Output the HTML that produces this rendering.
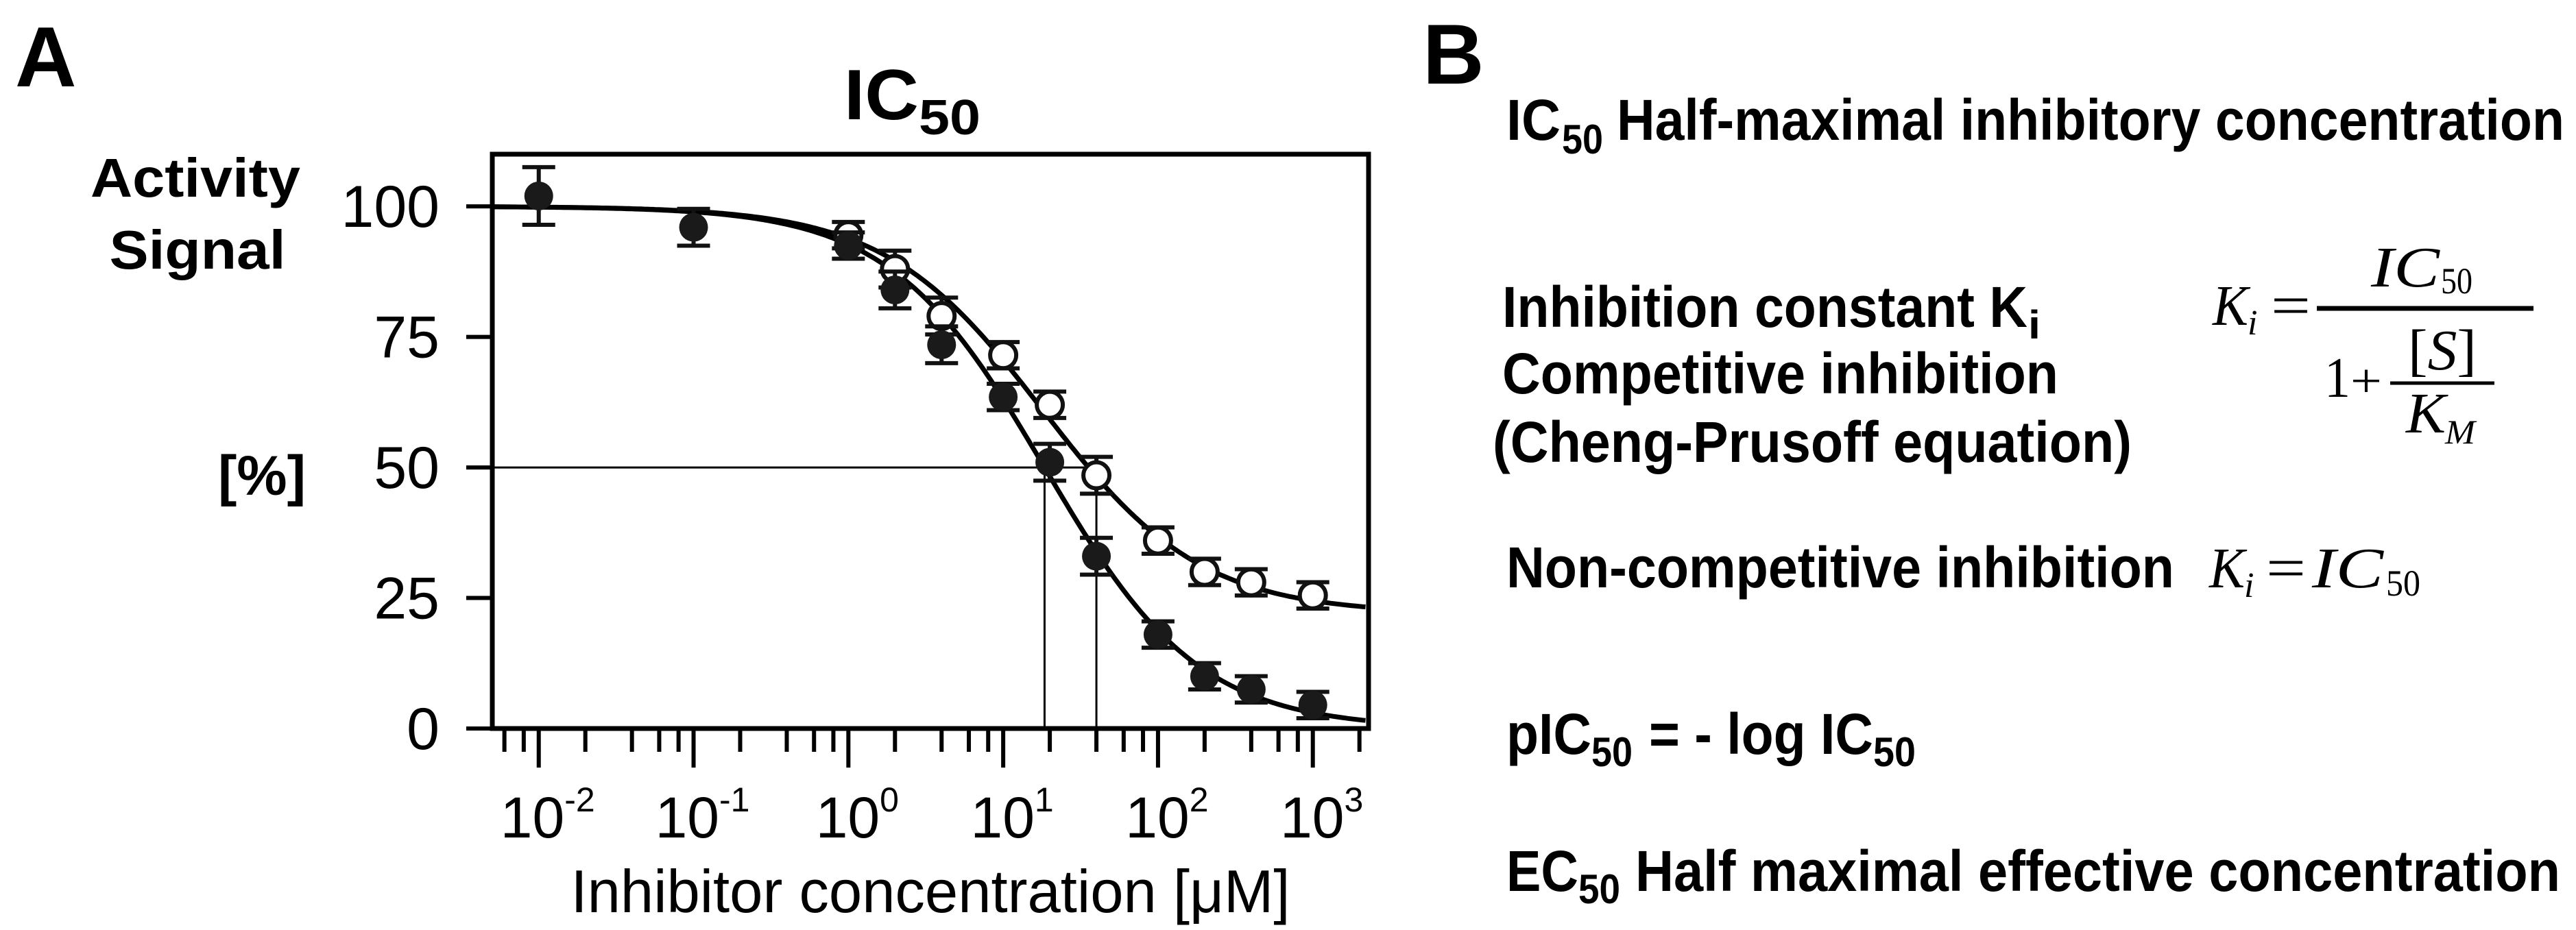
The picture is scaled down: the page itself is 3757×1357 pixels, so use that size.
<!DOCTYPE html>
<html><head><meta charset="utf-8"><style>
html,body{margin:0;padding:0;background:#fff;}
svg{display:block;}
text{font-family:"Liberation Sans",sans-serif;fill:#000;}
.b{font-weight:bold;}
.m{font-family:"Liberation Serif",serif;font-style:italic;}
.mn{font-family:"Liberation Serif",serif;}
</style></head><body>
<svg id="fig" width="3757" height="1357" viewBox="0 0 3757 1357" xmlns="http://www.w3.org/2000/svg">
<rect width="3757" height="1357" fill="#fff"/>
<text class="b" x="22" y="126" font-size="124">A</text>
<g>
<text class="b" x="1231" y="174" font-size="104" textLength="109" lengthAdjust="spacingAndGlyphs">IC</text>
<text class="b" x="1340" y="196" font-size="72" textLength="90" lengthAdjust="spacingAndGlyphs">50</text>
</g>
<g>
<text class="b" x="285" y="287" font-size="80" text-anchor="middle" textLength="306" lengthAdjust="spacingAndGlyphs">Activity</text>
<text class="b" x="288" y="392" font-size="80" text-anchor="middle" textLength="257" lengthAdjust="spacingAndGlyphs">Signal</text>
<text class="b" x="446" y="722" font-size="82" text-anchor="end" textLength="128" lengthAdjust="spacingAndGlyphs">[%]</text>
</g>
<text x="1357" y="1331" font-size="88" text-anchor="middle" textLength="1049" lengthAdjust="spacingAndGlyphs">Inhibitor concentration [μM]</text>
<g id="plot"></g>

<text class="b" x="2075" y="122" font-size="124">B</text>
<g>
<text class="b" x="2197" y="204" font-size="84" textLength="79" lengthAdjust="spacingAndGlyphs">IC</text>
<text class="b" x="2278" y="224" font-size="60" textLength="60" lengthAdjust="spacingAndGlyphs">50</text>
<text class="b" x="2358" y="204" font-size="84" textLength="1382" lengthAdjust="spacingAndGlyphs">Half-maximal inhibitory concentration</text>
</g>
<g>
<text class="b" x="2191" y="477" font-size="84" textLength="766" lengthAdjust="spacingAndGlyphs">Inhibition constant K</text>
<text class="b" x="2958" y="494" font-size="58" textLength="18" lengthAdjust="spacingAndGlyphs">i</text>
<text class="b" x="2191" y="574" font-size="84" textLength="811" lengthAdjust="spacingAndGlyphs">Competitive inhibition</text>
<text class="b" x="2177" y="674" font-size="84" textLength="932" lengthAdjust="spacingAndGlyphs">(Cheng-Prusoff equation)</text>
</g>
<g>
<text class="m" x="3227" y="474" font-size="84" textLength="52" lengthAdjust="spacingAndGlyphs">K</text>
<text class="m" x="3278" y="488" font-size="52">i</text>
<text class="mn" x="3312" y="474" font-size="84" textLength="58" lengthAdjust="spacingAndGlyphs">=</text>
<line x1="3379" y1="450" x2="3695" y2="450" stroke="#000" stroke-width="7"/>
<text class="m" x="3458" y="418" font-size="84" textLength="100" lengthAdjust="spacingAndGlyphs">IC</text>
<text class="mn" x="3560" y="428" font-size="54" textLength="46" lengthAdjust="spacingAndGlyphs">50</text>
<text class="mn" x="3390" y="579" font-size="84" textLength="38" lengthAdjust="spacingAndGlyphs">1</text>
<text class="mn" x="3428" y="579" font-size="70" textLength="46" lengthAdjust="spacingAndGlyphs">+</text>
<line x1="3486" y1="559" x2="3638" y2="559" stroke="#000" stroke-width="5"/>
<text class="mn" x="3512" y="539" font-size="84" textLength="100" lengthAdjust="spacingAndGlyphs">[<tspan class="m">S</tspan>]</text>
<text class="m" x="3509" y="631" font-size="84" textLength="58" lengthAdjust="spacingAndGlyphs">K</text>
<text class="m" x="3566" y="647" font-size="50" textLength="44" lengthAdjust="spacingAndGlyphs">M</text>
</g>
<g>
<text class="b" x="2197" y="857" font-size="84" textLength="974" lengthAdjust="spacingAndGlyphs">Non-competitive inhibition</text>
<text class="m" x="3222" y="857" font-size="84" textLength="52" lengthAdjust="spacingAndGlyphs">K</text>
<text class="m" x="3273" y="871" font-size="52">i</text>
<text class="mn" x="3305" y="857" font-size="84" textLength="58" lengthAdjust="spacingAndGlyphs">=</text>
<text class="m" x="3372" y="857" font-size="84" textLength="104" lengthAdjust="spacingAndGlyphs">IC</text>
<text class="mn" x="3480" y="869" font-size="54" textLength="50" lengthAdjust="spacingAndGlyphs">50</text>
</g>
<g>
<text class="b" x="2197" y="1100" font-size="84" textLength="124" lengthAdjust="spacingAndGlyphs">pIC</text>
<text class="b" x="2321" y="1118" font-size="60" textLength="60" lengthAdjust="spacingAndGlyphs">50</text>
<text class="b" x="2405" y="1100" font-size="84" textLength="327" lengthAdjust="spacingAndGlyphs">= - log IC</text>
<text class="b" x="2732" y="1118" font-size="60" textLength="62" lengthAdjust="spacingAndGlyphs">50</text>
</g>
<g>
<text class="b" x="2197" y="1300" font-size="84" textLength="105" lengthAdjust="spacingAndGlyphs">EC</text>
<text class="b" x="2302" y="1318" font-size="60" textLength="61" lengthAdjust="spacingAndGlyphs">50</text>
<text class="b" x="2385" y="1300" font-size="84" textLength="1349" lengthAdjust="spacingAndGlyphs">Half maximal effective concentration</text>
</g>
</svg>
<script>
const concFilled = [0.01, 0.1, 1, 2, 4, 10, 20, 40, 100, 200, 400, 1000];
const valFilled  = [102, 96, 92.5, 84, 73.5, 63.5, 51, 33, 18, 10, 7.5, 4.5];
const errFilled  = [5, 3, 2, 3, 3, 2, 3, 3, 2, 2, 2, 2];
const concOpen = [1, 2, 4, 10, 20, 40, 100, 200, 400, 1000];
const valOpen  = [94.5, 88, 79, 71.5, 62, 48.5, 36, 30, 28, 25.5];
const errOpen  = [2, 3, 3, 2, 2, 3, 2, 2, 2, 2];
const yTicks = [0, 25, 50, 75, 100];
const xDecades = [-2, -1, 0, 1, 2, 3];
const fitFilled = {top:100, bottom:0, ic50:18.5, hill:0.87};
const fitOpen = {top:100, bottom:22, ic50:18, hill:0.85};
const ic50Marks = [18.5, 40];

const NS = "http://www.w3.org/2000/svg";
const plot = document.getElementById('plot');
const L=718, R=1996, T=225, B=1063;
const LX0=-2.3, LX1=3.36, Y0=0, Y1=110;
const xs = v => L + (Math.log10(v)-LX0)/(LX1-LX0)*(R-L);
const ys = v => B - (v-Y0)/(Y1-Y0)*(B-T);
function mk(tag, at, parent){const e=document.createElementNS(NS,tag);for(const k in at)e.setAttribute(k,at[k]);(parent||plot).appendChild(e);return e;}
const fpl = (p,x) => p.bottom + (p.top-p.bottom)/(1+Math.pow(x/p.ic50,p.hill));

let g = mk('path',{d:`M${L} ${ys(50)} H${xs(ic50Marks[1])}`,stroke:'#000','stroke-width':3,fill:'none'});


ic50Marks.forEach((c,i)=>{
  const l = mk('line',{x1:xs(c),x2:xs(c),y1:ys(50),y2:B,stroke:'#000','stroke-width':3});
  
  
});
[[fitFilled,'fit-curve-filled'],[fitOpen,'fit-curve-open']].forEach(([p,n])=>{
  let d='';
  for(let i=0;i<=300;i++){const lx=LX0+(LX1-0.02-LX0)*i/300;const x=Math.pow(10,lx);d+=(i?'L':'M')+xs(x).toFixed(1)+' '+ys(fpl(p,x)).toFixed(1);}
  const c = mk('path',{d:d,stroke:'#000','stroke-width':7,fill:'none'});
  
  
});
function drawSeries(conc, vals, errs, filled, name){
  conc.forEach((c,i)=>{
    const x=xs(c), y=ys(vals[i]), e=errs[i]*(B-T)/(Y1-Y0);
    const grp = mk('g',{});
    
    
    mk('path',{d:`M${x} ${y-e-4}V${y+e+4}M${x-24} ${y-e-4}H${x+24}M${x-24} ${y+e+4}H${x+24}`,stroke:'#111','stroke-width':6,fill:'none'},grp);
    mk('circle',{cx:x,cy:y,r:filled?21:19,fill:filled?'#1a1a1a':'#fff',stroke:'#111','stroke-width':filled?0:6},grp);
  });
}
drawSeries(concOpen, valOpen, errOpen, false, 'open');
drawSeries(concFilled, valFilled, errFilled, true, 'filled');

const fr = mk('rect',{x:L,y:T,width:R-L,height:B-T,fill:'none',stroke:'#000','stroke-width':7});


yTicks.forEach(v=>{
  mk('line',{x1:L-38,x2:L,y1:ys(v),y2:ys(v),stroke:'#000','stroke-width':6});
  const t = mk('text',{x:641,y:ys(v)+30,'font-size':86,'text-anchor':'end'});
  t.textContent = v;
  
  
});
for(let d=-3; d<=3; d++){
  [1,2,4,6,8].forEach(m=>{
    const v=m*Math.pow(10,d), lx=Math.log10(v);
    if(lx<LX0||lx>LX1) return;
    mk('line',{x1:xs(v),x2:xs(v),y1:B,y2:m===1?1120:1097,stroke:'#000','stroke-width':6});
  });
}
xDecades.forEach(d=>{
  const t = mk('text',{x:xs(Math.pow(10,d))+13,y:1222,'font-size':84,'text-anchor':'middle'});
  
  
  const a = mk('tspan',{},t); a.textContent='10';
  const s = mk('tspan',{dy:-38,'font-size':50},t); s.textContent=String(d);
});
</script>
</body></html>
